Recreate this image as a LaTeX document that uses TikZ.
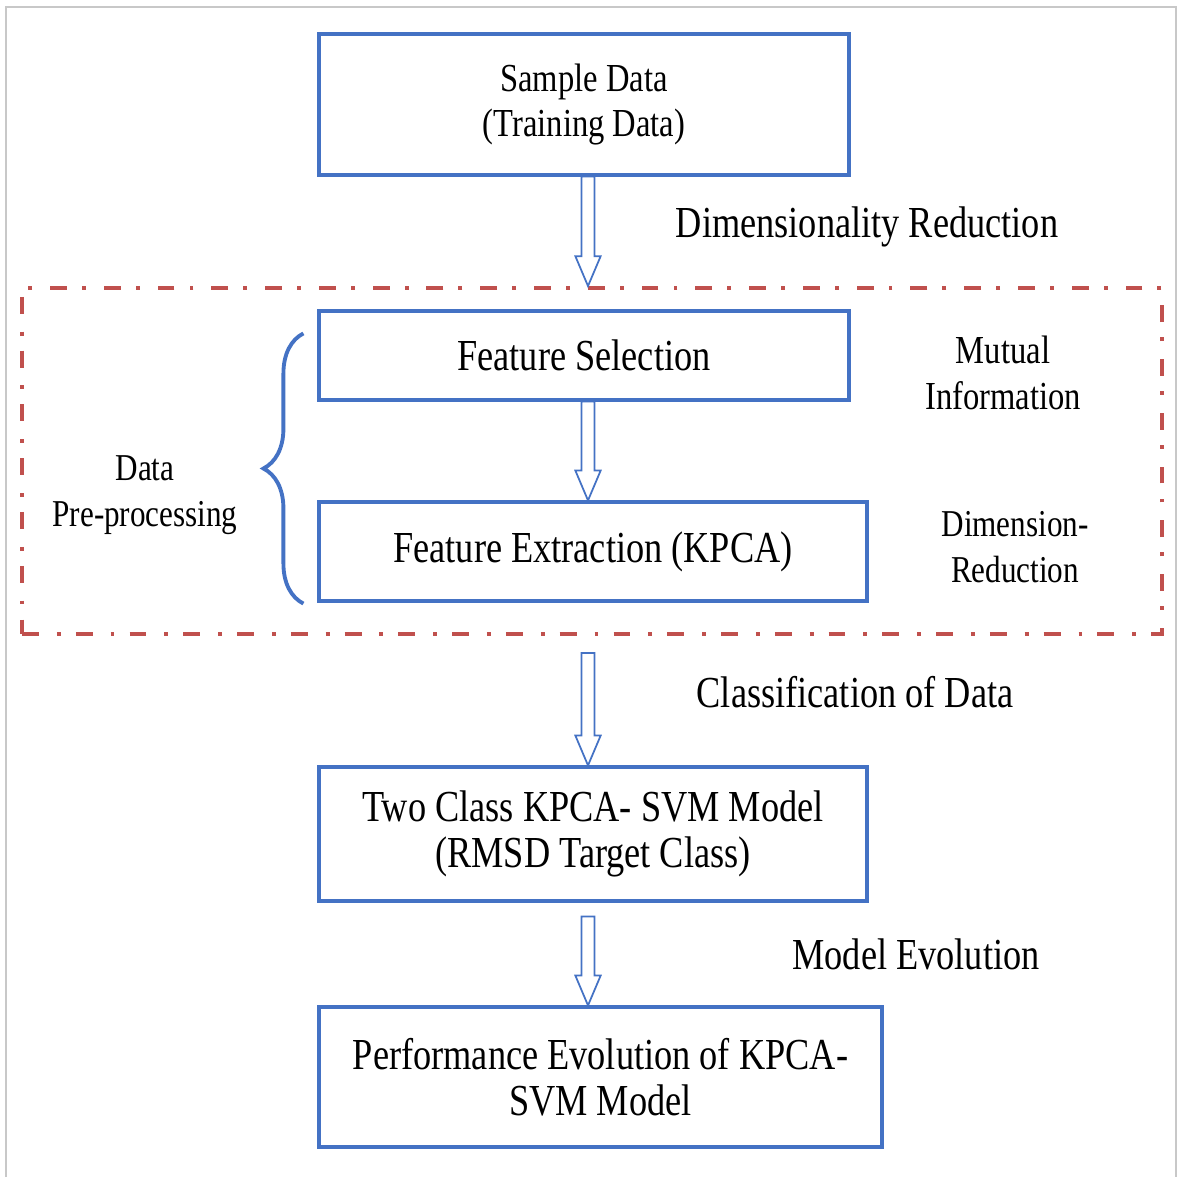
\documentclass[tikz,border=0pt]{standalone}
\usepackage{fontspec}
\setmainfont{Liberation Serif}[FakeStretch=0.82]
\usepackage{tikz}
\usetikzlibrary{calc,decorations.pathreplacing}
\definecolor{boxblue}{RGB}{68,114,196}
\definecolor{boxred}{RGB}{192,80,77}
\definecolor{framegray}{RGB}{200,200,200}

\begin{document}
\begin{tikzpicture}
	\useasboundingbox (0,0) rectangle (11.79,11.77);
	\tikzstyle{box} = [draw=boxblue, line width=0.9pt, align=center, inner sep=0pt, font=\fontsize{12.6}{13}\selectfont]
	\tikzstyle{lbl} = [align=center, inner sep=0pt, font=\fontsize{12.6}{13}\selectfont]
	\tikzstyle{hollow} = [draw=boxblue, line width=0.5pt, fill=white,
		to path={let \p1=(\tikztostart), \p2=(\tikztotarget) in
			(\x1-1.85pt,\y1) -- (\x1-1.85pt,\y2+8.5pt) -- (\x1-3.6pt,\y2+8.5pt) -- (\x1,\y2)
			-- (\x1+3.6pt,\y2+8.5pt) -- (\x1+1.85pt,\y2+8.5pt) -- (\x1+1.85pt,\y1) -- cycle}]
	% outer frame
	\draw [framegray, line width=0.7pt] (0.06,0) -- (0.06,11.70) -- (11.76,11.70) -- (11.76,0);
	% boxes
	\node [box, minimum width=5.30cm, minimum height=1.41cm, font=\fontsize{11.3}{13}\selectfont] (sample) at (5.84, 10.725) {Sample Data\\(Training Data)};
	\node [box, minimum width=5.30cm, minimum height=0.89cm] (featsel) at (5.84, 8.215) {Feature Selection};
	\node [box, minimum width=5.48cm, minimum height=0.99cm] (featext) at (5.93, 6.255) {Feature Extraction (KPCA)};
	\node [box, minimum width=5.48cm, minimum height=1.34cm] (twoclass) at (5.93, 3.43) {Two Class KPCA- SVM Model\\(RMSD Target Class)};
	\node [box, minimum width=5.63cm, minimum height=1.40cm] (perf) at (6.005, 1.00) {Performance Evolution of KPCA-\\SVM Model};
	% pre-processing frame
	\node [draw=boxred, line width=1.1pt, dash pattern=on 4.8pt off 5.1pt on 1.1pt off 4.3pt,
		minimum width=11.40cm, minimum height=3.46cm] (prebox) at (5.92, 7.16) {};
	% labels
	\node [lbl] (dimred) at (8.67, 9.50) {Dimensionality Reduction};
	\node [lbl, font=\fontsize{11.3}{13}\selectfont] (mutual) at (10.03, 8.04) {Mutual\\Information};
	\node [lbl, font=\fontsize{10.8}{13}\selectfont] (dimen) at (10.15, 6.30) {Dimension-\\Reduction};
	\node [lbl] (classif) at (8.55, 4.85) {Classification of Data};
	\node [lbl] (evol) at (9.16, 2.23) {Model Evolution};
	\node [lbl, font=\fontsize{10.8}{13}\selectfont] (datapre) at (1.45, 6.82) {Data\\Pre-processing};
	% arrows
	\coordinate (ax) at (5.88, 0);
	\draw [hollow] (sample.south -| ax) to (prebox.north -| ax);
	\draw [hollow] (featsel.south -| ax) to (featext.north -| ax);
	\draw [hollow] ([yshift=-0.17cm]prebox.south -| ax) to (twoclass.north -| ax);
	\draw [hollow] ([yshift=-0.14cm]twoclass.south -| ax) to (perf.north -| ax);
	% brace
	\draw [boxblue, line width=1.1pt, decorate, decoration={brace, amplitude=0.4cm}]
		([xshift=-0.14cm, yshift=-0.01cm]featext.south west) -- ([xshift=-0.14cm, yshift=-0.24cm]featsel.north west);
\end{tikzpicture}
\end{document}
